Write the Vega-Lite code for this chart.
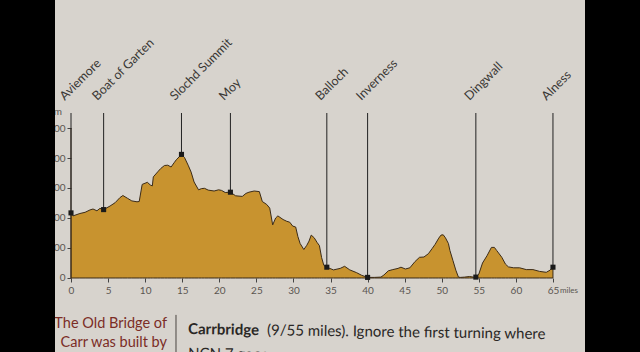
{
  "$schema": "https://vega.github.io/schema/vega-lite/v6.json",
  "width": 530,
  "height": 352,
  "autosize": {"type": "none"},
  "padding": {"left": 55, "right": 55, "top": 0, "bottom": 0},
  "background": "#000000",
  "config": {
    "view": {"fill": "#d7d3cd", "stroke": null},
    "font": "Lato"
  },
  "datasets": {
    "profile": [
      {"mile": 0, "elev": 217}, {"mile": 0.27, "elev": 207}, {"mile": 1.2, "elev": 215}, {"mile": 1.9, "elev": 219},
      {"mile": 2.57, "elev": 227}, {"mile": 2.97, "elev": 230}, {"mile": 3.5, "elev": 224}, {"mile": 3.9, "elev": 232},
      {"mile": 4.4, "elev": 228}, {"mile": 5.27, "elev": 240}, {"mile": 5.95, "elev": 251}, {"mile": 6.6, "elev": 268},
      {"mile": 7.0, "elev": 275}, {"mile": 7.6, "elev": 266}, {"mile": 8.2, "elev": 257}, {"mile": 8.9, "elev": 254},
      {"mile": 9.2, "elev": 255}, {"mile": 9.6, "elev": 312}, {"mile": 10.3, "elev": 319}, {"mile": 10.7, "elev": 310},
      {"mile": 10.97, "elev": 307}, {"mile": 11.1, "elev": 337}, {"mile": 11.7, "elev": 354}, {"mile": 12.1, "elev": 365},
      {"mile": 12.6, "elev": 375}, {"mile": 13.05, "elev": 376}, {"mile": 13.5, "elev": 370}, {"mile": 13.9, "elev": 384},
      {"mile": 14.2, "elev": 394}, {"mile": 14.9, "elev": 412}, {"mile": 15.3, "elev": 402}, {"mile": 15.8, "elev": 376},
      {"mile": 16.2, "elev": 353}, {"mile": 16.6, "elev": 320}, {"mile": 17.2, "elev": 294}, {"mile": 17.6, "elev": 298},
      {"mile": 18.0, "elev": 299}, {"mile": 18.5, "elev": 293}, {"mile": 19.3, "elev": 290}, {"mile": 19.9, "elev": 294},
      {"mile": 20.3, "elev": 292}, {"mile": 20.8, "elev": 285}, {"mile": 21.5, "elev": 286}, {"mile": 22.2, "elev": 274},
      {"mile": 23.1, "elev": 272}, {"mile": 23.6, "elev": 282}, {"mile": 24.0, "elev": 286}, {"mile": 24.7, "elev": 290},
      {"mile": 25.4, "elev": 288}, {"mile": 25.8, "elev": 255}, {"mile": 26.4, "elev": 245}, {"mile": 26.8, "elev": 233},
      {"mile": 27.2, "elev": 177}, {"mile": 27.6, "elev": 200}, {"mile": 27.9, "elev": 207}, {"mile": 28.6, "elev": 195},
      {"mile": 29.1, "elev": 189}, {"mile": 29.5, "elev": 186}, {"mile": 29.9, "elev": 173}, {"mile": 30.3, "elev": 170},
      {"mile": 30.6, "elev": 138}, {"mile": 30.9, "elev": 115}, {"mile": 31.4, "elev": 95}, {"mile": 31.8, "elev": 109},
      {"mile": 32.1, "elev": 123}, {"mile": 32.4, "elev": 143}, {"mile": 32.8, "elev": 134}, {"mile": 33.2, "elev": 118},
      {"mile": 33.5, "elev": 108}, {"mile": 33.8, "elev": 68}, {"mile": 34.1, "elev": 42}, {"mile": 34.5, "elev": 36},
      {"mile": 35.4, "elev": 27}, {"mile": 36.3, "elev": 32}, {"mile": 36.9, "elev": 39}, {"mile": 37.6, "elev": 27},
      {"mile": 38.5, "elev": 18}, {"mile": 39.2, "elev": 9}, {"mile": 40, "elev": 2}, {"mile": 40.9, "elev": 2},
      {"mile": 41.8, "elev": 3}, {"mile": 42.2, "elev": 10}, {"mile": 42.8, "elev": 24}, {"mile": 43.4, "elev": 28},
      {"mile": 44.1, "elev": 32}, {"mile": 44.5, "elev": 36}, {"mile": 45.1, "elev": 30}, {"mile": 45.7, "elev": 34},
      {"mile": 46.4, "elev": 55}, {"mile": 47.0, "elev": 69}, {"mile": 47.6, "elev": 70}, {"mile": 48.2, "elev": 81},
      {"mile": 48.7, "elev": 98}, {"mile": 49.1, "elev": 112}, {"mile": 49.6, "elev": 133}, {"mile": 49.9, "elev": 143},
      {"mile": 50.2, "elev": 144}, {"mile": 50.5, "elev": 134}, {"mile": 50.9, "elev": 115}, {"mile": 51.1, "elev": 92},
      {"mile": 51.5, "elev": 59}, {"mile": 51.9, "elev": 26}, {"mile": 52.25, "elev": 3}, {"mile": 52.5, "elev": 2},
      {"mile": 53.1, "elev": 3}, {"mile": 53.75, "elev": 5}, {"mile": 54.25, "elev": 3}, {"mile": 54.6, "elev": 3},
      {"mile": 55, "elev": 13}, {"mile": 55.5, "elev": 50}, {"mile": 56.1, "elev": 74}, {"mile": 56.7, "elev": 102},
      {"mile": 57.1, "elev": 102}, {"mile": 57.4, "elev": 92}, {"mile": 58.1, "elev": 69}, {"mile": 58.6, "elev": 46},
      {"mile": 59.0, "elev": 37}, {"mile": 59.7, "elev": 34}, {"mile": 60.5, "elev": 34}, {"mile": 61.4, "elev": 28},
      {"mile": 62.3, "elev": 28}, {"mile": 63.2, "elev": 22}, {"mile": 64.1, "elev": 19}, {"mile": 64.6, "elev": 26},
      {"mile": 65, "elev": 36}
    ],
    "places": [
      {"place": "Aviemore", "mile": 0, "elev": 217},
      {"place": "Boat of Garten", "mile": 4.4, "elev": 228},
      {"place": "Slochd Summit", "mile": 14.9, "elev": 412},
      {"place": "Moy", "mile": 21.5, "elev": 286},
      {"place": "Balloch", "mile": 34.5, "elev": 36},
      {"place": "Inverness", "mile": 40, "elev": 2},
      {"place": "Dingwall", "mile": 54.6, "elev": 3},
      {"place": "Alness", "mile": 65, "elev": 36}
    ],
    "notes": [{"text": "note"}]
  },
  "encoding": {
    "x": {
      "type": "quantitative",
      "scale": {"domain": [-2.158, 69.32], "nice": false, "zero": false},
      "axis": {
        "title": null, "orient": "bottom", "offset": -74, "domain": false,
        "values": [0, 5, 10, 15, 20, 25, 30, 35, 40, 45, 50, 55, 60, 65],
        "tickSize": 4, "tickColor": "#444444", "labelColor": "#5a5550",
        "labelFont": "Lato", "labelFontSize": 10, "labelPadding": 3, "grid": false
      }
    },
    "y": {
      "type": "quantitative",
      "scale": {"domain": [-246.67, 926.67], "nice": false, "zero": false},
      "axis": {
        "title": null, "orient": "left", "offset": -16, "domain": false,
        "values": [0, 100, 200, 300, 400, 500],
        "tickSize": 4, "tickColor": "#444444", "labelColor": "#5a5550",
        "labelFont": "Lato", "labelFontSize": 10, "labelPadding": 2, "grid": false
      }
    }
  },
  "layer": [
    {
      "data": {"name": "profile"},
      "mark": {"type": "area", "fill": "#c8932f", "stroke": "#3b2b18", "strokeWidth": 1, "fillOpacity": 1},
      "encoding": {
        "x": {"field": "mile"},
        "y": {"field": "elev"}
      }
    },
    {
      "data": {"name": "notes"},
      "mark": {"type": "rule", "color": "#3b2b18", "strokeWidth": 1},
      "encoding": {
        "x": {"datum": 0},
        "y": {"datum": 0},
        "y2": {"datum": 500}
      }
    },
    {
      "data": {"name": "places"},
      "mark": {"type": "rule", "color": "#222222", "strokeWidth": 1},
      "encoding": {
        "x": {"field": "mile"},
        "y": {"field": "elev"},
        "y2": {"datum": 550}
      }
    },
    {
      "data": {"name": "places"},
      "mark": {"type": "point", "shape": "square", "filled": true, "size": 26, "color": "#1a1a1a", "opacity": 1},
      "encoding": {
        "x": {"field": "mile"},
        "y": {"field": "elev"}
      }
    },
    {
      "data": {"name": "places"},
      "mark": {"type": "text", "angle": -45, "align": "left", "baseline": "alphabetic", "dx": 4, "dy": -13, "font": "Lato", "fontSize": 12.5, "color": "#3a3835"},
      "encoding": {
        "x": {"field": "mile"},
        "y": {"datum": 550},
        "text": {"field": "place"}
      }
    },
    {
      "data": {"name": "notes"},
      "mark": {"type": "text", "align": "right", "baseline": "alphabetic", "dx": -9, "font": "Lato", "fontSize": 10, "color": "#5a5550"},
      "encoding": {
        "x": {"datum": 0},
        "y": {"datum": 543},
        "text": {"value": "m"}
      }
    },
    {
      "data": {"name": "notes"},
      "mark": {"type": "text", "align": "left", "baseline": "top", "dx": 7, "dy": 9, "font": "Lato", "fontSize": 8, "color": "#5a5550"},
      "encoding": {
        "x": {"datum": 65},
        "y": {"datum": 0},
        "text": {"value": "miles"}
      }
    },
    {
      "data": {"name": "notes"},
      "mark": {"type": "text", "align": "right", "baseline": "alphabetic", "font": "Lato", "fontSize": 14.5, "color": "#7b2d26"},
      "encoding": {
        "x": {"datum": 12.95},
        "y": {"datum": -166.7},
        "text": {"value": "The Old Bridge of"}
      }
    },
    {
      "data": {"name": "notes"},
      "mark": {"type": "text", "align": "right", "baseline": "alphabetic", "font": "Lato", "fontSize": 14.5, "color": "#7b2d26"},
      "encoding": {
        "x": {"datum": 12.95},
        "y": {"datum": -230},
        "text": {"value": "Carr was built by"}
      }
    },
    {
      "data": {"name": "notes"},
      "mark": {"type": "rule", "color": "#4a4440", "strokeWidth": 1},
      "encoding": {
        "x": {"datum": 14.16},
        "y": {"datum": -123},
        "y2": {"datum": -260}
      }
    },
    {
      "data": {"name": "notes"},
      "mark": {"type": "text", "align": "left", "baseline": "alphabetic", "font": "Lato", "fontSize": 15, "fontWeight": "bold", "color": "#2a2725", "angle": 0.8},
      "encoding": {
        "x": {"datum": 15.78},
        "y": {"datum": -186.7},
        "text": {"value": "Carrbridge"}
      }
    },
    {
      "data": {"name": "notes"},
      "mark": {"type": "text", "align": "left", "baseline": "alphabetic", "dx": 79, "font": "Lato", "fontSize": 15, "color": "#2a2725", "angle": 0.8},
      "encoding": {
        "x": {"datum": 15.78},
        "y": {"datum": -186.7},
        "text": {"value": "(9/55 miles). Ignore the first turning where"}
      }
    },
    {
      "data": {"name": "notes"},
      "mark": {"type": "text", "align": "left", "baseline": "alphabetic", "font": "Lato", "fontSize": 15, "color": "#2a2725", "angle": 0.8},
      "encoding": {
        "x": {"datum": 15.78},
        "y": {"datum": -268},
        "text": {"value": "NCN 7 goes"}
      }
    },
    {
      "data": {"name": "notes"},
      "mark": {"type": "rect", "color": "#000000"},
      "encoding": {
        "x": {"datum": -9.6},
        "x2": {"datum": -2.158},
        "y": {"datum": -300},
        "y2": {"datum": 1000}
      }
    }
  ]
}
